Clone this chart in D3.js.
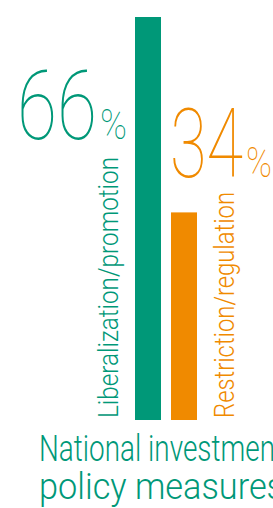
<!DOCTYPE html>
<html>
<head>
    <script src='https://cdn.jsdelivr.net/npm/d3@7'></script>
    <style type='text/css'>
        html, body {
            margin: 0;
            padding: 0;
            overflow: hidden;
            background: white;
        }
        text {
            font-family: 'Roboto', sans-serif;
            font-weight: 300;
        }
        .big {
            font-weight: 100;
        }
    </style>
</head>
<body>
    <script>
        // data:
        const categories = ['Liberalization/promotion', 'Restriction/regulation'];
        const values = [66, 34];
        const colors = ['#009878', '#f08a00'];
        const titleLines = ['National investment', 'policy measures'];

        const width = 273, height = 508;
        const svg = d3.select('body').append('svg')
            .attr('width', width)
            .attr('height', height);

        // scales:
        const x = d3.scaleBand()
            .domain(categories)
            .range([135, 197])
            .paddingInner(0.278)
            .paddingOuter(0);
        const y = d3.scaleLinear()
            .domain([0, d3.max(values)])
            .range([420, 17]);

        const rows = categories.map((c, i) => ({ cat: c, value: values[i], color: colors[i], i: i }));

        // bars
        svg.append('g')
            .selectAll('rect')
            .data(rows).join('rect')
            .attr('x', d => x(d.cat))
            .attr('y', d => y(d.value))
            .attr('width', x.bandwidth())
            .attr('height', d => y(0) - y(d.value))
            .attr('fill', d => d.color);

        // category labels, rotated, running up from the baseline
        const catOffsets = [-17, x.bandwidth() + 37];   // baseline position relative to bar left
        const catLengths = [261, 226];
        svg.append('g')
            .selectAll('text')
            .data(rows).join('text')
            .attr('transform', d => `translate(${x(d.cat) + catOffsets[d.i]},${y(0) - 2}) rotate(-90)`)
            .attr('font-size', 27)
            .attr('fill', d => d.color)
            .attr('textLength', d => catLengths[d.i])
            .attr('lengthAdjust', 'spacingAndGlyphs')
            .text(d => d.cat);

        // big value labels
        const valPos = [
            { num: 17, pct: 100, base: 139, numLen: 80, pctLen: 27 },
            { num: 170, pct: 246, base: 177, numLen: 73, pctLen: 26 }
        ];
        const vals = svg.append('g')
            .selectAll('g')
            .data(rows).join('g')
            .attr('fill', d => d.color);
        vals.append('text')
            .attr('class', 'big')
            .attr('x', d => valPos[d.i].num)
            .attr('y', d => valPos[d.i].base)
            .attr('font-size', 97)
            .attr('textLength', d => valPos[d.i].numLen)
            .attr('lengthAdjust', 'spacingAndGlyphs')
            .text(d => d.value);
        vals.append('text')
            .attr('class', 'big')
            .attr('x', d => valPos[d.i].pct)
            .attr('y', d => valPos[d.i].base)
            .attr('font-size', 42)
            .attr('textLength', d => valPos[d.i].pctLen)
            .attr('lengthAdjust', 'spacingAndGlyphs')
            .text('%');

        // title
        svg.append('g')
            .selectAll('text')
            .data(titleLines).join('text')
            .attr('x', 39)
            .attr('y', (d, i) => 461 + i * 38)
            .attr('font-size', 37)
            .attr('fill', colors[0])
            .attr('textLength', 245)
            .attr('lengthAdjust', 'spacingAndGlyphs')
            .text(d => d);
    </script>
</body>
</html>
